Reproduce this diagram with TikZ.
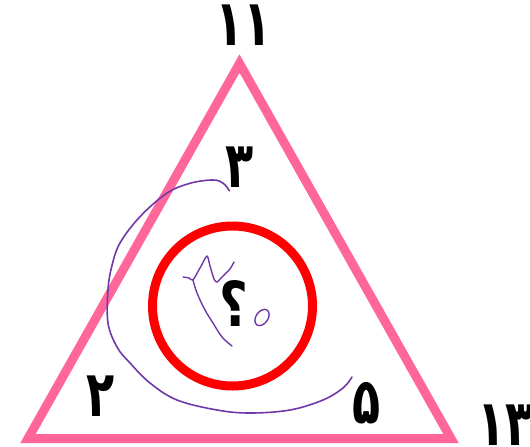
\documentclass[tikz,border=0pt]{standalone}
\usepackage{graphicx}
\usepackage{fontspec}
\newfontfamily\fa[Script=Arabic]{DejaVu Sans}
\definecolor{tripink}{RGB}{255,102,153}
\definecolor{circred}{RGB}{255,0,0}
\definecolor{penpurple}{RGB}{112,56,168}
\newcommand{\narrow}[1]{\scalebox{0.72}[1]{#1}}
\tikzset{
  lbl/.style={inner sep=0pt, font=\fa\bfseries\fontsize{64}{64}\selectfont},
  pen/.style={draw=penpurple, line width=1.6pt, line cap=round, line join=round},
}
\begin{document}
\begin{tikzpicture}[x=1pt,y=-1pt]
\useasboundingbox (0,0) rectangle (530,447);
\fill[white] (0,0) rectangle (530,447);
% triangle
\coordinate (A) at (239.5,63.5);
\coordinate (B) at (451,438.5);
\coordinate (C) at (28,438.5);
\draw[tripink, line width=9pt, line join=miter] (A) -- (B) -- (C) -- cycle;
% circle
\node[draw=circred, line width=9pt, circle, minimum size=160pt, inner sep=0pt] (ring) at (232.5,306) {};
% labels
\node[lbl] (n11) at (243.5,25) {\narrow{۱۱}};
\node[lbl] (n3) at (239.5,167.5) {\narrow{۳}};
\node[lbl] (n2) at (100.5,396.5) {\narrow{۲}};
\node[lbl] (n5) at (366.5,403.5) {\narrow{۵}};
\node[lbl, anchor=west] (n13) at (477,425) {\narrow{۱۳}};
\node[lbl, font=\fa\bfseries\fontsize{62}{62}\selectfont] (q) at (234,303) {\scalebox{0.8}[1]{؟}};
% spiral
\draw[pen] plot[smooth, tension=0.6] coordinates {(229.3,190.7) (223.3,183.3) (213,180) (190,183.3) (166.7,193.3) (140,216.7) (120,243) (111.7,266.7) (108,290) (108,323) (117,347) (130,363) (150,383) (177,400) (217,410) (250,413) (290,410) (323,400) (343,388) (352,377)};
% handwritten three
\draw[pen, line width=1.4pt] plot[smooth, tension=0.4] coordinates {(183,277) (189,278) (193,280) (200,268) (207,256) (210,266) (214,279) (217,282) (223,276) (230,269) (234,262)};
\draw[pen, line width=1.4pt] plot[smooth, tension=0.6] coordinates {(193,280) (197,293) (205,310) (213,323) (222,337) (232,346)};
% handwritten zero
\draw[pen, line width=1.4pt] (262,317.5) ellipse[x radius=6pt, y radius=9pt, rotate=-35];
\end{tikzpicture}
\end{document}
